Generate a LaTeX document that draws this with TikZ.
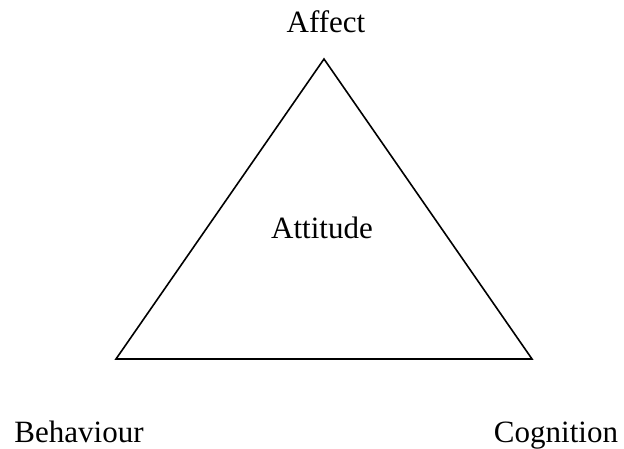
\documentclass[tikz,border=0pt]{standalone}
\usepackage{fontspec}
\setmainfont{Liberation Serif}
\usetikzlibrary{positioning}
\tikzset{
  lab/.style={inner sep=0pt, anchor=base, font=\fontsize{31}{37}\selectfont},
  side/.style={line width=1.6pt, line join=miter}
}

\begin{document}
\begin{tikzpicture}[x=1pt,y=1pt]
\useasboundingbox (0,0) rectangle (624,448);
\coordinate (top) at (324,389);
\coordinate (left) at (116,89);
\coordinate (right) at (532,89);
\draw[side] (top) -- (left) -- (right) -- cycle;
\node[lab] (affect) at (326,415) {Affect};
\node[lab] (attitude) at (322,210) {Attitude};
\node[lab] (behaviour) at (79,6) {Behaviour};
\node[lab] (cognition) at (556,6) {Cognition};
\end{tikzpicture}
\end{document}
